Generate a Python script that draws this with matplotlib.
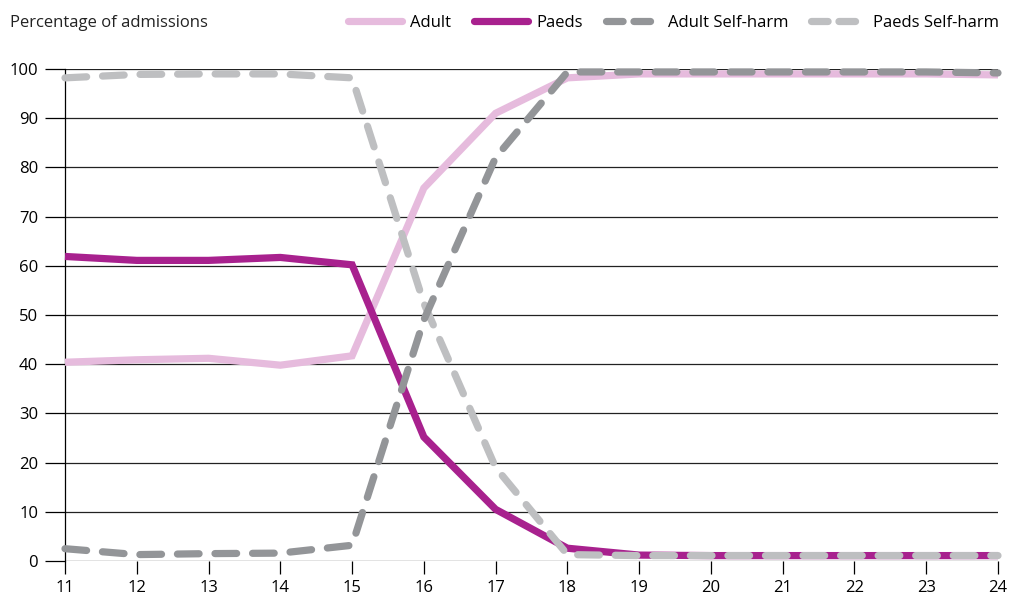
import matplotlib
matplotlib.use('Agg')
import matplotlib.pyplot as plt
from matplotlib.lines import Line2D

# Data
ages = [11, 12, 13, 14, 15, 16, 17, 18, 19, 20, 21, 22, 23, 24]
adult = [40.4, 40.9, 41.2, 39.8, 41.7, 75.8, 91.0, 98.2, 99.0, 99.0, 99.0, 99.0, 99.0, 98.8]
paeds = [61.9, 61.1, 61.1, 61.7, 60.2, 25.2, 10.5, 2.6, 1.2, 1.1, 1.1, 1.1, 1.1, 1.1]
adult_sh = [2.5, 1.3, 1.5, 1.6, 3.2, 49.0, 82.0, 99.4, 99.4, 99.4, 99.4, 99.4, 99.4, 99.2]
paeds_sh = [98.2, 98.9, 99.0, 99.0, 98.2, 52.4, 19.0, 1.3, 1.1, 1.1, 1.1, 1.1, 1.1, 1.1]

series_names = ['Adult', 'Paeds', 'Adult Self-harm', 'Paeds Self-harm']
colors = ['#e6bbdd', '#a8218e', '#939598', '#bebfc1']
y_ticks = [0, 10, 20, 30, 40, 50, 60, 70, 80, 90, 100]

plt.rcParams['font.family'] = ['Open Sans', 'DejaVu Sans']
FS = 12

fig = plt.figure(figsize=(10.09, 5.98), dpi=100)
ax = fig.add_axes([65 / 1009, 1 - 561 / 598, (998 - 65) / 1009, (561 - 69) / 598])

lw = 5.2
ax.plot(ages, adult, color=colors[0], lw=lw, solid_capstyle='butt',
        solid_joinstyle='miter', clip_on=False, zorder=3)
ax.plot(ages, paeds, color=colors[1], lw=lw, solid_capstyle='butt',
        solid_joinstyle='miter', clip_on=False, zorder=4)
ax.plot(ages, paeds_sh, color=colors[3], lw=lw, dashes=(3.0, 2.2),
        dash_capstyle='round', dash_joinstyle='miter', clip_on=False, zorder=5)
ax.plot(ages, adult_sh, color=colors[2], lw=lw, dashes=(3.0, 2.2),
        dash_capstyle='round', dash_joinstyle='miter', clip_on=False, zorder=6)

ax.set_xlim(11, 24)
ax.set_ylim(0, 100)
ax.set_xticks(ages)
ax.set_yticks(y_ticks)
ax.set_xticklabels([str(a) for a in ages], fontsize=FS)
ax.set_yticklabels([str(v) for v in y_ticks], fontsize=FS)

for s in ['top', 'right', 'bottom']:
    ax.spines[s].set_visible(False)
ax.spines['left'].set_color('black')
ax.spines['left'].set_linewidth(0.9)

ax.tick_params(axis='y', length=14.4, width=0.9, pad=5, color='black')
ax.tick_params(axis='x', length=9, width=0.9, pad=5, color='black')

# horizontal gridlines extending left through tick marks
for v in y_ticks:
    ax.axhline(v, color='#222222', lw=0.9, zorder=1)

fig.text(10 / 1009, 1 - 23 / 598, 'Percentage of admissions', fontsize=FS,
         va='center', ha='left', color='#222222')

handles = [
    Line2D([], [], color=colors[0], lw=lw, solid_capstyle='round'),
    Line2D([], [], color=colors[1], lw=lw, solid_capstyle='round'),
    Line2D([], [], color=colors[2], lw=lw, dashes=(2.3, 1.5), dash_capstyle='round'),
    Line2D([], [], color=colors[3], lw=lw, dashes=(2.3, 1.5), dash_capstyle='round'),
]
fig.legend(handles, series_names, loc='center right', bbox_to_anchor=(999 / 1009, 1 - 23 / 598),
           ncol=4, frameon=False, fontsize=FS, handlelength=3.2, handletextpad=0.5,
           columnspacing=1.4, borderaxespad=0, borderpad=0)

fig.savefig('out.png', dpi=100)
